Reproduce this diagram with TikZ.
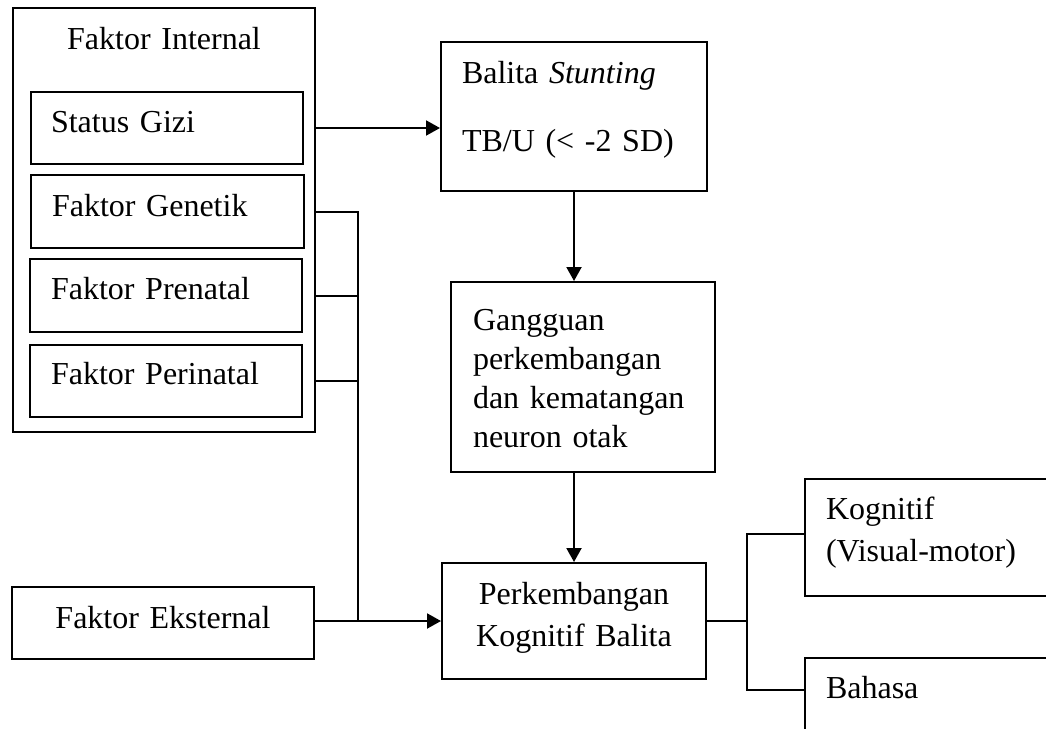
\documentclass[tikz,border=0pt]{standalone}
\usepackage{fontspec}
\setmainfont{Liberation Serif}
\usepackage{tikz}
\usetikzlibrary{
  arrows.meta,
}
\tikzset{
  box/.style = {draw, line width=2pt, anchor=north west,
      inner sep=0pt, align=left,
      font=\fontsize{32}{39}\selectfont},
  cbox/.style = {box, align=center},
  arrow/.style = {-{Triangle[length=14pt, width=15pt]}},
}

\begin{document}
\begin{tikzpicture}[x=1pt, y=-1pt, line width=2pt]
  \useasboundingbox (0,0) rectangle (1046,728);
  \clip (0,0) rectangle (1046,728);

  % left column
  \node[cbox, text width=302pt, text height=41pt, text depth=383pt]
    (internal) at (12,7) {Faktor Internal};
  \node[box, inner xsep=20pt, text width=232pt, text height=40pt, text depth=32pt]
    (gizi) at (30,91) {Status Gizi};
  \node[box, inner xsep=21pt, text width=231pt, text height=41pt, text depth=32pt]
    (genetik) at (30,174) {Faktor Genetik};
  \node[box, inner xsep=21pt, text width=230pt, text height=40pt, text depth=33pt]
    (prenatal) at (29,258) {Faktor Prenatal};
  \node[box, inner xsep=21pt, text width=230pt, text height=39pt, text depth=33pt]
    (perinatal) at (29,344) {Faktor Perinatal};
  \node[cbox, text width=302pt, text height=41pt, text depth=31pt]
    (eksternal) at (11,586) {Faktor Eksternal};

  % middle column
  \node[box, inner xsep=21pt, text width=224pt, text height=41pt, text depth=108pt]
    (balita) at (440,41) {Balita \textit{Stunting}\\[29pt]TB/U (< -2 SD)};
  \node[box, inner xsep=22pt, text width=220pt, text height=48pt, text depth=142pt]
    (gangguan) at (450,281) {Gangguan\\perkembangan\\dan kematangan\\neuron otak};
  \node[cbox, text width=264pt, text height=41pt, text depth=75pt,
    font=\fontsize{32}{42}\selectfont]
    (perkembangan) at (441,562) {Perkembangan\\Kognitif Balita};

  % right column
  \node[box, inner xsep=21pt, text width=228pt, text height=40pt, text depth=77pt,
    font=\fontsize{32}{42}\selectfont]
    (kognitif) at (804,478) {Kognitif\\(Visual-motor)};
  \node[box, inner xsep=21pt, text width=228pt, text height=40pt, text depth=80pt]
    (bahasa) at (804,657) {Bahasa};

  \coordinate (bus) at (perkembangan.west -| 358,0);
  \coordinate (fork) at (perkembangan.east -| 747,0);

  \draw[arrow] (gizi -| internal.east) -- (gizi -| balita.west);
  \draw (genetik -| internal.east) -- (genetik -| bus) -- (bus);
  \draw (prenatal -| internal.east) -- (prenatal -| bus);
  \draw (perinatal -| internal.east) -- (perinatal -| bus);
  \draw[arrow] (eksternal.east |- perkembangan.west) -- (perkembangan.west);

  \draw[arrow] (balita.south) -- (balita.south |- gangguan.north);
  \draw[arrow] (perkembangan.north |- gangguan.south) -- (perkembangan.north);

  \draw (perkembangan.east) -- (fork);
  \draw ([yshift=4pt]kognitif.west) -| (fork) |- ([yshift=-33pt]bahasa.north west);
\end{tikzpicture}
\end{document}
